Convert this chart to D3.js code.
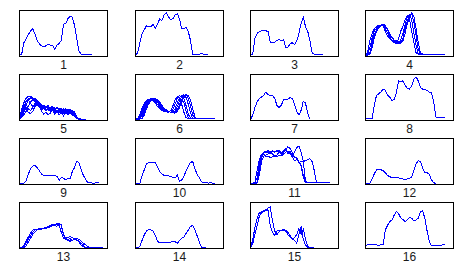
<!DOCTYPE html>
<html>
<head>
<meta charset="utf-8">
<script src="https://cdn.jsdelivr.net/npm/d3@7"></script>
<style>
  body { margin: 0; background: #fff; }
  text { font-family: "Liberation Sans", Arial, sans-serif; }
</style>
</head>
<body>
<div id="vis"></div>
<script>
// panel labels
var labels = ["1", "2", "3", "4", "5", "6", "7", "8",
              "9", "10", "11", "12", "13", "14", "15", "16"];

// each panel: list of traces, values in % of panel height, one per sample step
var s1 = [[4,5,30,38,48,55,60,50,35,28,23,22,23,27,25,25,15,25,28,35,70,72,82,88,85,68,40,12,5,5,5,5,5,5]];
var s2 = [[3,8,30,50,58,67,65,64,70,62,70,82,78,90,95,86,80,82,90,93,82,60,60,64,54,35,5,5,5,5,6,5,5,5]];
var s3 = [[4,5,40,50,54,56,57,56,54,30,30,31,35,37,34,37,20,20,28,30,26,33,50,72,86,65,55,35,8,5,5,5,5,5]];
var s4 = [
  [4,10,35,50,60,66,68,68,66,55,45,38,35,30,28,38,55,65,80,88,80,55,30,8,5,5,5,5,5,5,5,5,5,5,5,5,5],
  [3,5,20,40,55,62,67,68,68,62,50,42,36,33,30,28,35,50,70,85,90,80,50,25,6,5,5,5,5,5,5,5,5,5,5,5,5],
  [3,4,8,30,48,58,64,68,70,68,58,46,40,35,32,30,28,40,60,78,90,92,75,45,15,5,5,5,5,5,5,5,5,5,5,5,5],
  [3,3,5,20,40,55,62,66,68,66,60,50,42,36,34,32,30,34,50,72,85,95,88,60,30,8,5,5,5,5,5,5,5,5,5,5,5]
];
var s5 = [
  [3,25,40,48,52,52,50,46,40,32,30,33,28,31,26,30,25,28,24,27,22,25,21,24,18,20,8,4,3,3,3],
  [3,15,30,42,47,50,49,45,38,33,28,30,27,28,25,28,24,27,22,24,20,23,19,22,16,14,6,3,3,3,3],
  [3,10,20,28,18,15,20,30,35,30,26,28,22,26,20,24,18,22,17,20,15,18,14,17,12,10,4,3,3,3,3],
  [3,22,38,50,53,51,47,44,42,36,32,30,29,27,29,26,28,25,26,23,25,21,24,20,22,14,5,3,3,3,3],
  [3,8,12,20,30,40,45,48,44,38,34,31,30,32,27,31,25,29,23,27,21,26,20,25,20,17,8,3,3,3,3],
  [3,18,28,35,25,22,28,38,40,33,27,25,24,23,22,21,22,20,20,19,18,18,17,16,15,12,5,3,3,3,3],
  [3,12,25,40,45,48,46,40,35,28,24,26,25,24,23,25,21,23,20,22,18,21,17,20,15,12,6,3,3,3,3],
  [3,6,18,33,44,38,30,34,44,36,20,14,18,12,16,22,14,20,12,18,10,16,12,20,14,8,4,3,3,3,3]
];
var s6 = [
  [3,4,12,28,38,44,46,47,44,38,30,25,22,20,19,18,22,32,45,52,48,35,18,6,4,4,4,4,4,4,4,4,4,4,4,4,4],
  [3,3,8,22,35,42,46,47,46,42,35,28,24,21,20,19,18,24,36,48,54,50,38,20,6,4,4,4,4,4,4,4,4,4,4,4,4],
  [3,3,5,15,30,40,45,48,47,44,40,32,26,22,20,19,18,19,26,38,50,55,48,32,14,5,4,4,4,4,4,4,4,4,4,4,4],
  [3,3,4,10,24,36,43,46,48,46,42,36,28,24,21,19,18,18,20,30,42,52,56,50,35,16,5,4,4,4,4,4,4,4,4,4,4],
  [3,3,3,6,18,32,40,45,47,47,44,38,30,25,22,20,18,17,18,24,34,46,54,56,48,32,12,4,4,4,4,4,4,4,4,4,4],
  [3,3,3,4,12,26,36,42,45,46,45,40,33,27,23,20,18,17,16,20,28,40,50,55,54,44,26,8,4,4,4,4,4,4,4,4,4]
];
var s7 = [[2,12,28,40,48,51,55,62,56,54,54,48,33,28,33,45,46,46,50,48,35,20,12,22,42,38,15,3]];
var s8 = [[4,4,4,4,33,55,58,62,68,66,55,51,44,45,60,86,85,86,77,70,68,76,90,95,86,72,68,68,65,62,60,40,8,6,6,6,6]];
var s9 = [[2,3,3,8,22,34,40,42,37,30,23,20,20,20,20,19,19,18,9,15,14,10,14,12,28,37,50,48,33,20,12,4,4,3,3,4,4]];
var s10 = [[2,2,3,20,32,45,48,48,48,47,38,28,23,20,20,19,17,16,14,20,7,10,18,30,40,48,50,35,22,15,6,4,4,3,4,3,2]];
var s11 = [
  [3,3,5,30,55,65,70,72,68,70,74,70,72,75,70,72,76,68,70,62,60,58,50,40,15,4,4,4,4,4,4,4,4,4,4,4,4],
  [3,3,3,15,45,62,68,70,74,68,72,70,75,72,68,74,78,70,72,65,70,80,84,70,50,8,4,4,4,4,4,4,4,4,4,4,4],
  [3,3,3,5,30,58,66,60,62,58,60,62,60,64,62,66,70,72,66,60,52,54,50,42,20,5,4,4,4,4,4,4,4,4,4,4,4],
  [3,3,3,3,20,50,62,64,66,70,66,62,64,70,66,70,76,82,78,70,60,56,48,50,50,52,54,56,50,30,4,4,4,4,4,4,4]
];
var s12 = [[2,2,3,12,23,32,33,32,30,26,20,17,15,14,15,15,12,12,10,12,14,16,30,45,52,50,36,25,26,22,10,4,2]];
var s13 = [
  [1,2,8,16,25,33,40,42,42,42,42,43,44,46,48,50,52,54,50,35,22,20,20,21,18,20,18,16,12,8,2,2,2,2,2,2,2,2,2],
  [1,1,4,12,20,28,35,40,42,43,42,44,46,48,50,52,50,48,54,52,30,22,24,26,23,22,20,14,8,4,2,2,2,2,2,2,2,2,2],
  [1,1,2,6,14,22,30,36,40,42,43,43,44,45,47,49,51,53,54,50,30,20,17,16,18,20,22,20,16,12,8,4,2,2,2,2,2,2,2]
];
var s14 = [[1.5,1.5,4,18,30,38,42,40,38,29,15,13,13,13,13,13,14,16,15,11,17,22,25,33,40,48,50,40,28,14,2,2,2]];
var s15 = [
  [1,20,45,65,78,80,82,84,83,50,35,28,38,40,40,40,38,30,25,22,18,12,30,48,20,8,3,2,2,2],
  [1,10,30,50,70,78,80,82,88,90,60,38,30,36,40,41,40,35,28,20,24,30,44,30,42,20,6,2,2,2]
];
var s16 = [[7,8,8,8,8,8,7,8,8,40,50,58,62,72,81,76,67,63,58,63,67,66,60,62,66,80,82,65,38,16,6,6,6,6,7,8,8]];

var panels = [s1, s2, s3, s4, s5, s6, s7, s8, s9, s10, s11, s12, s13, s14, s15, s16];

var W = 467, H = 274;
var pw = 88, ph = 46;

var svg = d3.select("#vis")
    .append("svg")
    .attr("width", W)
    .attr("height", H);

var colX = d3.scaleLinear().domain([0, 3]).range([19.3, 365.3]);
var rowY = d3.scaleLinear().domain([0, 3]).range([10.3, 202.3]);

// each sample step is 2.5% of the panel width
var x = d3.scaleLinear().domain([0, 40]).range([0, pw]);
var y = d3.scaleLinear().domain([0, 100]).range([ph, 0]);

var line = d3.line()
    .x(function (d, i) { return x(i); })
    .y(function (d) { return y(d); });

panels.forEach(function (traces, k) {
    var c = k % 4, r = Math.floor(k / 4);
    var g = svg.append("g")
        .attr("transform", "translate(" + (Math.round(colX(c)) + 0.5) + "," + (Math.round(rowY(r)) + 0.5) + ")");

    g.selectAll(".trace")
        .data(traces)
        .enter()
        .append("path")
        .attr("class", "trace")
        .attr("d", line)
        .attr("fill", "none")
        .attr("stroke", "#0000ff")
        .attr("stroke-width", 1)
        .attr("shape-rendering", "crispEdges");

    g.append("rect")
        .attr("width", pw)
        .attr("height", ph)
        .attr("fill", "none")
        .attr("stroke", "#000")
        .attr("stroke-width", 1)
        .attr("shape-rendering", "crispEdges");

    g.append("text")
        .attr("x", pw / 2)
        .attr("y", ph + 12.5)
        .attr("text-anchor", "middle")
        .attr("font-size", 12)
        .attr("fill", "#1a1a1a")
        .text(labels[k]);
});
</script>
</body>
</html>
